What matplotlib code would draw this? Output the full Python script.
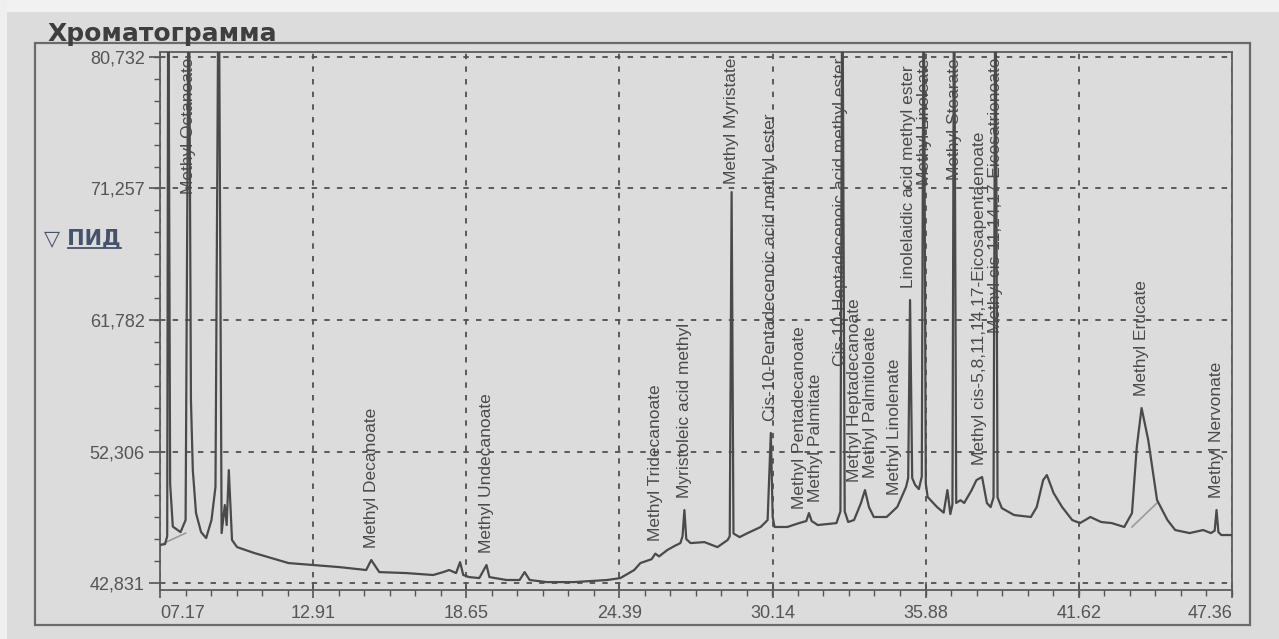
import matplotlib
matplotlib.use("Agg")
import matplotlib.pyplot as plt
import numpy as np
from matplotlib.lines import Line2D
from matplotlib.patches import Rectangle
from matplotlib.ticker import FixedLocator, FixedFormatter, AutoMinorLocator

# retention time, min
RT = [
    7.17, 7.36, 7.44, 7.48, 7.55, 7.65, 7.94, 8.13, 8.25, 8.33, 8.40, 8.52, 8.71,
    8.90, 9.10, 9.25, 9.37, 9.48, 9.60, 9.67, 9.75, 9.87, 10.06, 10.71, 11.99, 12.91,
    13.89, 14.90, 15.09, 15.39, 16.40, 17.41, 17.79, 18.01, 18.27, 18.42, 18.54, 18.76,
    19.14, 19.41, 19.52, 20.16, 20.65, 20.84, 21.03, 21.67, 22.69, 23.94,
    24.43, 24.95, 25.18, 25.60, 25.74, 25.88, 26.19, 26.46, 26.68, 26.76, 26.83, 26.90,
    27.06, 27.58, 28.07, 28.45, 28.53, 28.60, 28.67, 28.90, 29.20, 29.69, 29.95, 30.07,
    30.14, 30.21, 30.69, 31.13, 31.40, 31.50, 31.60, 31.83, 32.53, 32.68, 32.75, 32.84,
    32.97, 33.19, 33.45, 33.60, 33.75, 33.93, 34.41, 34.81, 35.14, 35.22, 35.29, 35.37,
    35.48, 35.62, 35.73, 35.80, 35.88, 35.95, 36.30, 36.55, 36.69, 36.80, 36.88, 36.94,
    37.02, 37.18, 37.32, 37.60, 37.78, 37.99, 38.17, 38.31, 38.42, 38.49, 38.57, 38.73,
    39.19, 39.82, 40.04, 40.28, 40.42, 40.67, 40.99, 41.37, 41.66, 42.05, 42.45, 42.85,
    43.32, 43.61, 43.79, 43.97, 44.22, 44.55, 44.94, 45.23, 45.77, 46.28, 46.57, 46.71,
    46.78, 46.85, 46.96, 47.36,
]

# detector signal (values above the scale are off-range peaks)
SIGNAL = [
    45.57, 45.64, 46.20, 90.00, 50.00, 46.90, 46.50, 47.37, 90.00, 56.02, 50.97, 47.87, 46.50,
    46.07, 47.37, 49.75, 90.00, 46.43, 48.45, 47.01, 50.97, 45.93, 45.42, 44.99, 44.27, 44.13,
    43.98, 43.77, 44.49, 43.62, 43.55, 43.41, 43.62, 43.77, 43.55, 44.34, 43.41, 43.26,
    43.19, 44.13, 43.26, 43.05, 43.05, 43.62, 43.05, 42.90, 42.90, 43.05,
    43.19, 43.77, 44.27, 44.55, 44.95, 44.75, 45.21, 45.50, 45.71, 46.20, 48.09, 46.00,
    45.71, 45.78, 45.42, 45.93, 46.20, 71.00, 46.40, 46.14, 46.43, 46.87, 47.37, 53.64,
    47.60, 46.87, 46.87, 47.15, 47.30, 47.87, 47.30, 47.01, 47.15, 48.00, 90.00, 48.00,
    47.23, 47.37, 48.60, 49.53, 48.30, 47.59, 47.59, 48.31, 49.75, 50.40, 63.22, 50.40,
    49.90, 49.60, 50.50, 90.00, 50.00, 49.03, 48.31, 47.90, 49.53, 47.80, 48.50, 90.00,
    48.60, 48.80, 48.60, 49.53, 50.25, 50.47, 48.60, 48.30, 49.00, 90.00, 49.00, 48.23,
    47.73, 47.59, 48.31, 50.25, 50.61, 49.32, 48.31, 47.37, 47.15, 47.59, 47.23, 47.15,
    46.87, 47.87, 52.63, 55.44, 53.13, 48.81, 47.37, 46.65, 46.43, 46.65, 46.43, 46.60,
    48.09, 46.50, 46.29, 46.29,
]

# integration baselines drawn under two peak groups
BASELINE_RT = [[7.17, 8.13], [43.61, 44.55]]
BASELINE_SIGNAL = [[45.57, 46.43], [46.87, 48.60]]

PEAK_NAMES = [
    "Methyl Octanoate",
    "Methyl Decanoate",
    "Methyl Undecanoate",
    "Methyl Tridecanoate",
    "Myristoleic acid methyl",
    "Methyl Myristate",
    "Cis-10-Pentadecenoic acid methyl ester",
    "Methyl Pentadecanoate",
    "Methyl Palmitate",
    "Cis-10-Heptadecenoic acid methyl ester",
    "Methyl Heptadecanoate",
    "Methyl Palmitoleate",
    "Methyl Linolenate",
    "Linolelaidic acid methyl ester",
    "Methyl Linoleate",
    "Methyl Stearate",
    "Methyl cis-5,8,11,14,17-Eicosapentaenoate",
    "Methyl cis-11,14,17-Eicosatrienoate",
    "Methyl Erucate",
    "Methyl Nervonate",
]
PEAK_RT = [
    8.25, 15.09, 19.41, 25.74, 26.83, 28.60, 30.07, 31.25, 31.62, 32.70,
    33.45, 33.60, 34.70, 35.29, 35.80, 36.94, 37.90, 38.49, 43.97, 46.78,
]

X_TICKS = [7.17, 12.91, 18.65, 24.39, 30.14, 35.88, 41.62, 47.36]
X_TICK_LABELS = ["07.17", "12.91", "18.65", "24.39", "30.14", "35.88", "41.62", "47.36"]
Y_TICKS = [42.831, 52.306, 61.782, 71.257, 80.732]
Y_TICK_LABELS = ["42,831", "52,306", "61,782", "71,257", "80,732"]

W, H = 1279, 639
PAPER = "#dcdcdc"
INK = "#4a4a4a"

plt.rcParams["font.family"] = ["Liberation Sans", "DejaVu Sans"]

fig = plt.figure(figsize=(W / 100, H / 100), dpi=100, facecolor=PAPER)


def fx(px):
    return px / W


def fy(py):
    return 1 - py / H


# light strip along the top and left edge of the sheet
fig.add_artist(Rectangle((0, fy(12)), 1, 12 / H, transform=fig.transFigure,
                         fc="#f1f1f1", ec="none", zorder=0))
fig.add_artist(Rectangle((0, 0), 7 / W, 1, transform=fig.transFigure,
                         fc="#efefef", ec="none", zorder=0))

# outer frame of the report block
fig.add_artist(Rectangle((fx(35), fy(625)), (1250 - 35) / W, (625 - 43) / H,
                         transform=fig.transFigure, fill=False, ec="#6a6a6a", lw=1.6))
fig.text(fx(48), fy(41), "Хроматограмма", family="DejaVu Sans", fontsize=18,
         fontweight="bold", color="#3e3e3e", va="baseline")

# detector selector
fig.text(fx(44), fy(245), "▽ ПИД", family="DejaVu Sans", fontsize=15,
         fontweight="bold", color="#45526b", va="baseline")
fig.add_artist(Line2D([fx(68), fx(121)], [fy(248), fy(248)], transform=fig.transFigure,
                      color="#45526b", lw=1.3))

ax = fig.add_axes([fx(160), fy(590), (1232 - 160) / W, (590 - 52) / H])
ax.set_facecolor("none")
ax.set_xlim(X_TICKS[0], X_TICKS[-1])
ax.set_ylim(42.33, 81.09)

ax.xaxis.set_major_locator(FixedLocator(X_TICKS))
ax.xaxis.set_major_formatter(FixedFormatter(X_TICK_LABELS))
ax.yaxis.set_major_locator(FixedLocator(Y_TICKS))
ax.yaxis.set_major_formatter(FixedFormatter(Y_TICK_LABELS))
ax.xaxis.set_minor_locator(AutoMinorLocator(6))
ax.yaxis.set_minor_locator(AutoMinorLocator(6))

for side in ax.spines.values():
    side.set_color("#5c5c5c")
    side.set_linewidth(1.3)

ax.tick_params(axis="x", which="major", direction="inout", length=12, width=1.2,
               color="#555555", pad=5, labelsize=13, labelcolor="#555555")
ax.tick_params(axis="x", which="minor", direction="out", length=4, width=1.0, color="#555555")
ax.tick_params(axis="y", which="major", direction="out", length=8, width=1.2,
               color="#555555", pad=3, labelsize=13, labelcolor="#555555")
ax.tick_params(axis="y", which="minor", direction="out", length=4, width=1.0, color="#555555")

# end labels of the time axis are kept inside the frame
xlabels = ax.get_xticklabels()
xlabels[0].set_horizontalalignment("left")
xlabels[-1].set_horizontalalignment("right")

ax.set_axisbelow(True)
ax.grid(True, which="major", color="#505050", linestyle=(0, (3, 4)), linewidth=1.3)

rt = np.array(RT)
sig = np.array(SIGNAL)
for bx, by in zip(BASELINE_RT, BASELINE_SIGNAL):
    ax.plot(bx, by, color="#9a9a9a", lw=1.2, zorder=2)
ax.plot(rt, sig, color=INK, lw=1.6, zorder=3)

# peak names sit just above each apex; tall ones are pushed down to fit the frame
y_top = ax.get_ylim()[1]
labels = []
for name, t0 in zip(PEAK_NAMES, PEAK_RT):
    win = np.linspace(t0 - 0.1, t0 + 0.1, 41)
    apex = np.interp(win, rt, sig).max()
    inside = sig[np.abs(rt - t0) <= 0.1]
    if inside.size:
        apex = max(apex, inside.max())
    ann = ax.annotate(name, xy=(t0, min(apex, y_top)), xytext=(0, 9),
                      textcoords="offset points", rotation=90, ha="center",
                      va="bottom", fontsize=12.5, color="#4a4a4a",
                      annotation_clip=False, zorder=4)
    labels.append(ann)

pt = 72 / fig.dpi
fig.canvas.draw()
renderer = fig.canvas.get_renderer()
limit = ax.get_window_extent(renderer).y1 - 6
for ann in labels:
    bb = ann.get_window_extent(renderer)
    if bb.y1 > limit:
        dx, dy = ann.xyann
        ann.xyann = (dx, dy - (bb.y1 - limit) * pt)

# spread neighbouring names sideways where they would collide
fig.canvas.draw()
boxes = [ann.get_window_extent(renderer) for ann in labels]
order = sorted(range(len(labels)), key=lambda i: boxes[i].x0)
for a, b in zip(order, order[1:]):
    ba, bb = boxes[a], boxes[b]
    over_x = ba.x1 - bb.x0
    over_y = min(ba.y1, bb.y1) - max(ba.y0, bb.y0)
    if over_x > 0 and over_y > 0:
        shift = (over_x + 1) / 2
        dx, dy = labels[a].xyann
        labels[a].xyann = (dx - shift * pt, dy)
        dx, dy = labels[b].xyann
        labels[b].xyann = (dx + shift * pt, dy)
        boxes[b] = boxes[b].translated(shift, 0)

fig.savefig("out.png", dpi=100, facecolor=fig.get_facecolor())
